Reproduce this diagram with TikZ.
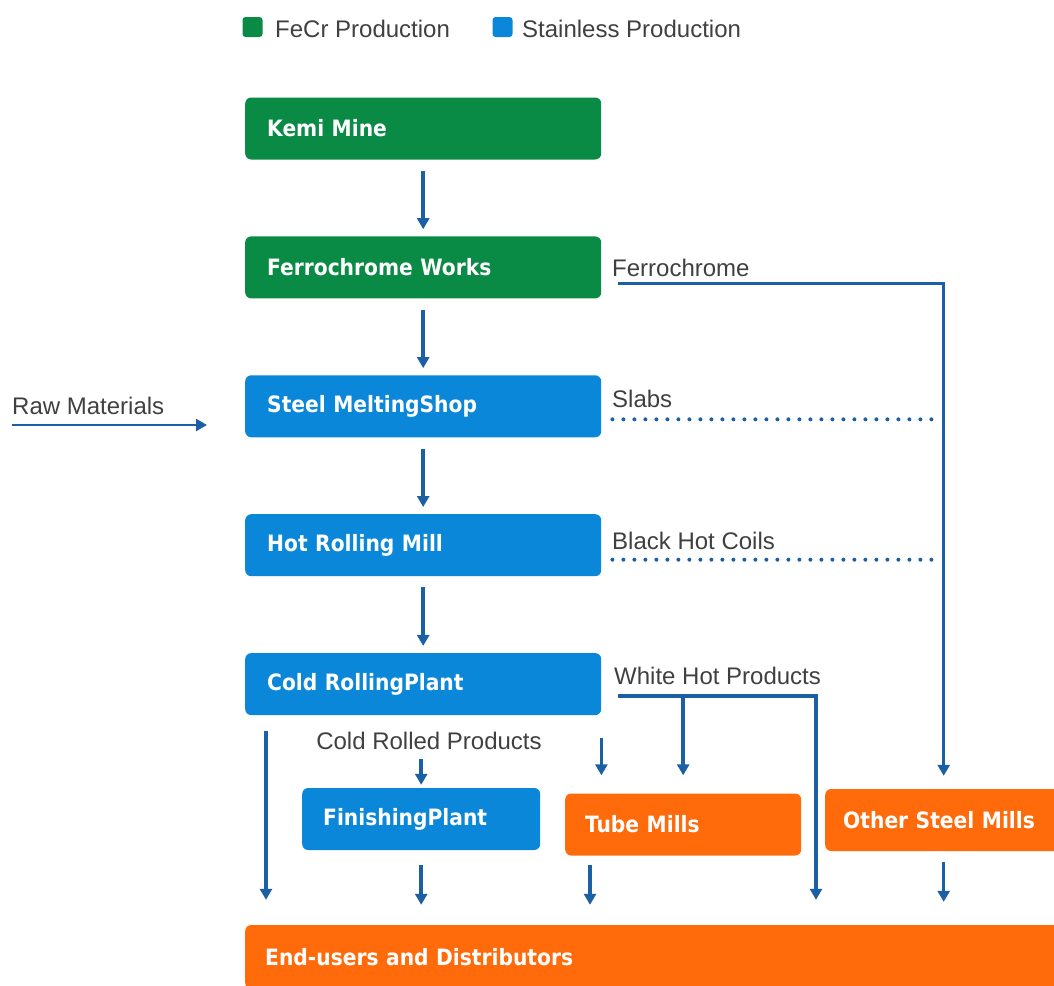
\documentclass[tikz,border=0pt]{standalone}
\usepackage{fontspec}
\setmainfont{Liberation Sans}
\newfontfamily\boxfont{DejaVu Sans Condensed}
\usepackage{tikz}
\usetikzlibrary{positioning}
\usetikzlibrary{arrows.meta}
\usepackage{xcolor}
\definecolor{fecrgreen}{HTML}{0A8B45}
\definecolor{stainblue}{HTML}{0B87DA}
\definecolor{millorange}{HTML}{FF6B0A}
\definecolor{flowblue}{HTML}{1B5FA5}
\definecolor{labelgrey}{HTML}{404040}

\begin{document}
\begin{tikzpicture}[x=1pt, y=-1pt,
box/.style={rectangle, rounded corners=6pt, minimum height=62pt, inner xsep=22pt, inner ysep=0pt, text width=312pt, align=left, text=white, font=\boxfont\bfseries\fontsize{22.5}{24}\selectfont},
fecrbox/.style={box, fill=fecrgreen},
stainbox/.style={box, fill=stainblue},
millbox/.style={box, fill=millorange},
keybox/.style={rectangle, rounded corners=3pt, minimum size=20pt, inner sep=0pt},
lbl/.style={inner sep=0pt, anchor=base west, text=labelgrey, font=\fontsize{24}{28}\selectfont},
flow/.style={draw=flowblue, line width=3.5pt, -{Triangle[length=11pt,width=12pt]}},
down/.style={flow, shorten <=11pt, shorten >=7pt},
dotline/.style={draw=flowblue, line width=4pt, line cap=round, dash pattern=on 0pt off 11pt, shorten >=5pt}]
\clip (0,0) rectangle (1054,985);

% legend
\node[keybox, fill=fecrgreen] (fecrkey) at (252.5,27) {};
\node[lbl] (fecrtxt) at (275,37) {FeCr Production};
\node[keybox, fill=stainblue] (stainkey) at (502.5,27) {};
\node[lbl] (staintxt) at (522,37) {Stainless Production};

% main column
\node[fecrbox, anchor=west] (kemi) at (245,128.5) {Kemi Mine};
\node[fecrbox] (ferro) [below=76.5pt of kemi] {Ferrochrome Works};
\node[stainbox] (steel) [below=76.5pt of ferro] {Steel MeltingShop};
\node[stainbox] (hot) [below=76.5pt of steel] {Hot Rolling Mill};
\node[stainbox] (cold) [below=76.5pt of hot] {Cold RollingPlant};

% lower row
\node[stainbox, anchor=west, text width=196pt, inner xsep=21pt] (finish) at (302,819) {FinishingPlant};
\node[millbox, anchor=west, text width=196pt, inner xsep=20pt] (tube) at (565,824.5) {Tube Mills};
\node[millbox, anchor=west, text width=201pt, inner xsep=18pt] (other) at (825,820) {Other Steel Mills};
\node[millbox, anchor=west, text width=779pt, inner xsep=20pt, minimum height=64pt] (endusers) at (245,957) {End-users and Distributors};

% labels
\node[lbl] (rawlbl) at (12,414) {Raw Materials};
\node[lbl] (fclbl) at (612,276) {Ferrochrome};
\node[lbl] (slablbl) at (612,407) {Slabs};
\node[lbl] (bhclbl) at (612,549) {Black Hot Coils};
\node[lbl] (whlbl) at (614,684) {White Hot Products};
\node[lbl, anchor=base] (crlbl) at (429,749) {Cold Rolled Products};

% flows down the column
\draw[down] (kemi.south) -- (ferro.north);
\draw[down] (ferro.south) -- (steel.north);
\draw[down] (steel.south) -- (hot.north);
\draw[down] (hot.south) -- (cold.north);

\coordinate (rawfrom) at (12,425);
\draw[flow, line width=2.5pt, shorten >=38pt] (rawfrom) -- (rawfrom -| steel.west);

% side products
\draw[flow, shorten >=13pt] ([shift={(17pt,-16pt)}]ferro.east) -| (other.north);
\draw[dotline] ([shift={(11pt,-13pt)}]steel.east) coordinate (slabfrom) -- (slabfrom -| other.north);
\draw[dotline] ([shift={(11pt,-14.5pt)}]hot.east) coordinate (bhcfrom) -- (bhcfrom -| other.north);

\coordinate (whturn) at (816,694);
\draw[flow, shorten >=25pt] ([shift={(17pt,-12pt)}]cold.east) coordinate (whfrom) -| (whturn |- endusers.north);
\draw[flow, shorten >=18pt] (whfrom -| tube.north) -- (tube.north);

% from cold rolling
\coordinate (crleft) at ([xshift=21pt]cold.south west);
\draw[flow, shorten <=16pt, shorten >=25pt] (crleft) -- (crleft |- endusers.north);
\draw[flow, shorten <=23pt, shorten >=18pt] (cold.south east) -- (cold.south east |- tube.north);
\draw[flow, shorten <=10pt, shorten >=3pt] (finish.north |- crlbl.south) -- (finish.north);

% into end-users
\coordinate (tubeout) at ([xshift=25pt]tube.south west);
\draw[flow, shorten <=15pt, shorten >=20pt] (finish.south) -- (finish.south |- endusers.north);
\draw[flow, shorten <=9pt, shorten >=20pt] (tubeout) -- (tubeout |- endusers.north);
\draw[flow, shorten <=11pt, shorten >=23pt] (other.south) -- (other.south |- endusers.north);
\end{tikzpicture}
\end{document}
